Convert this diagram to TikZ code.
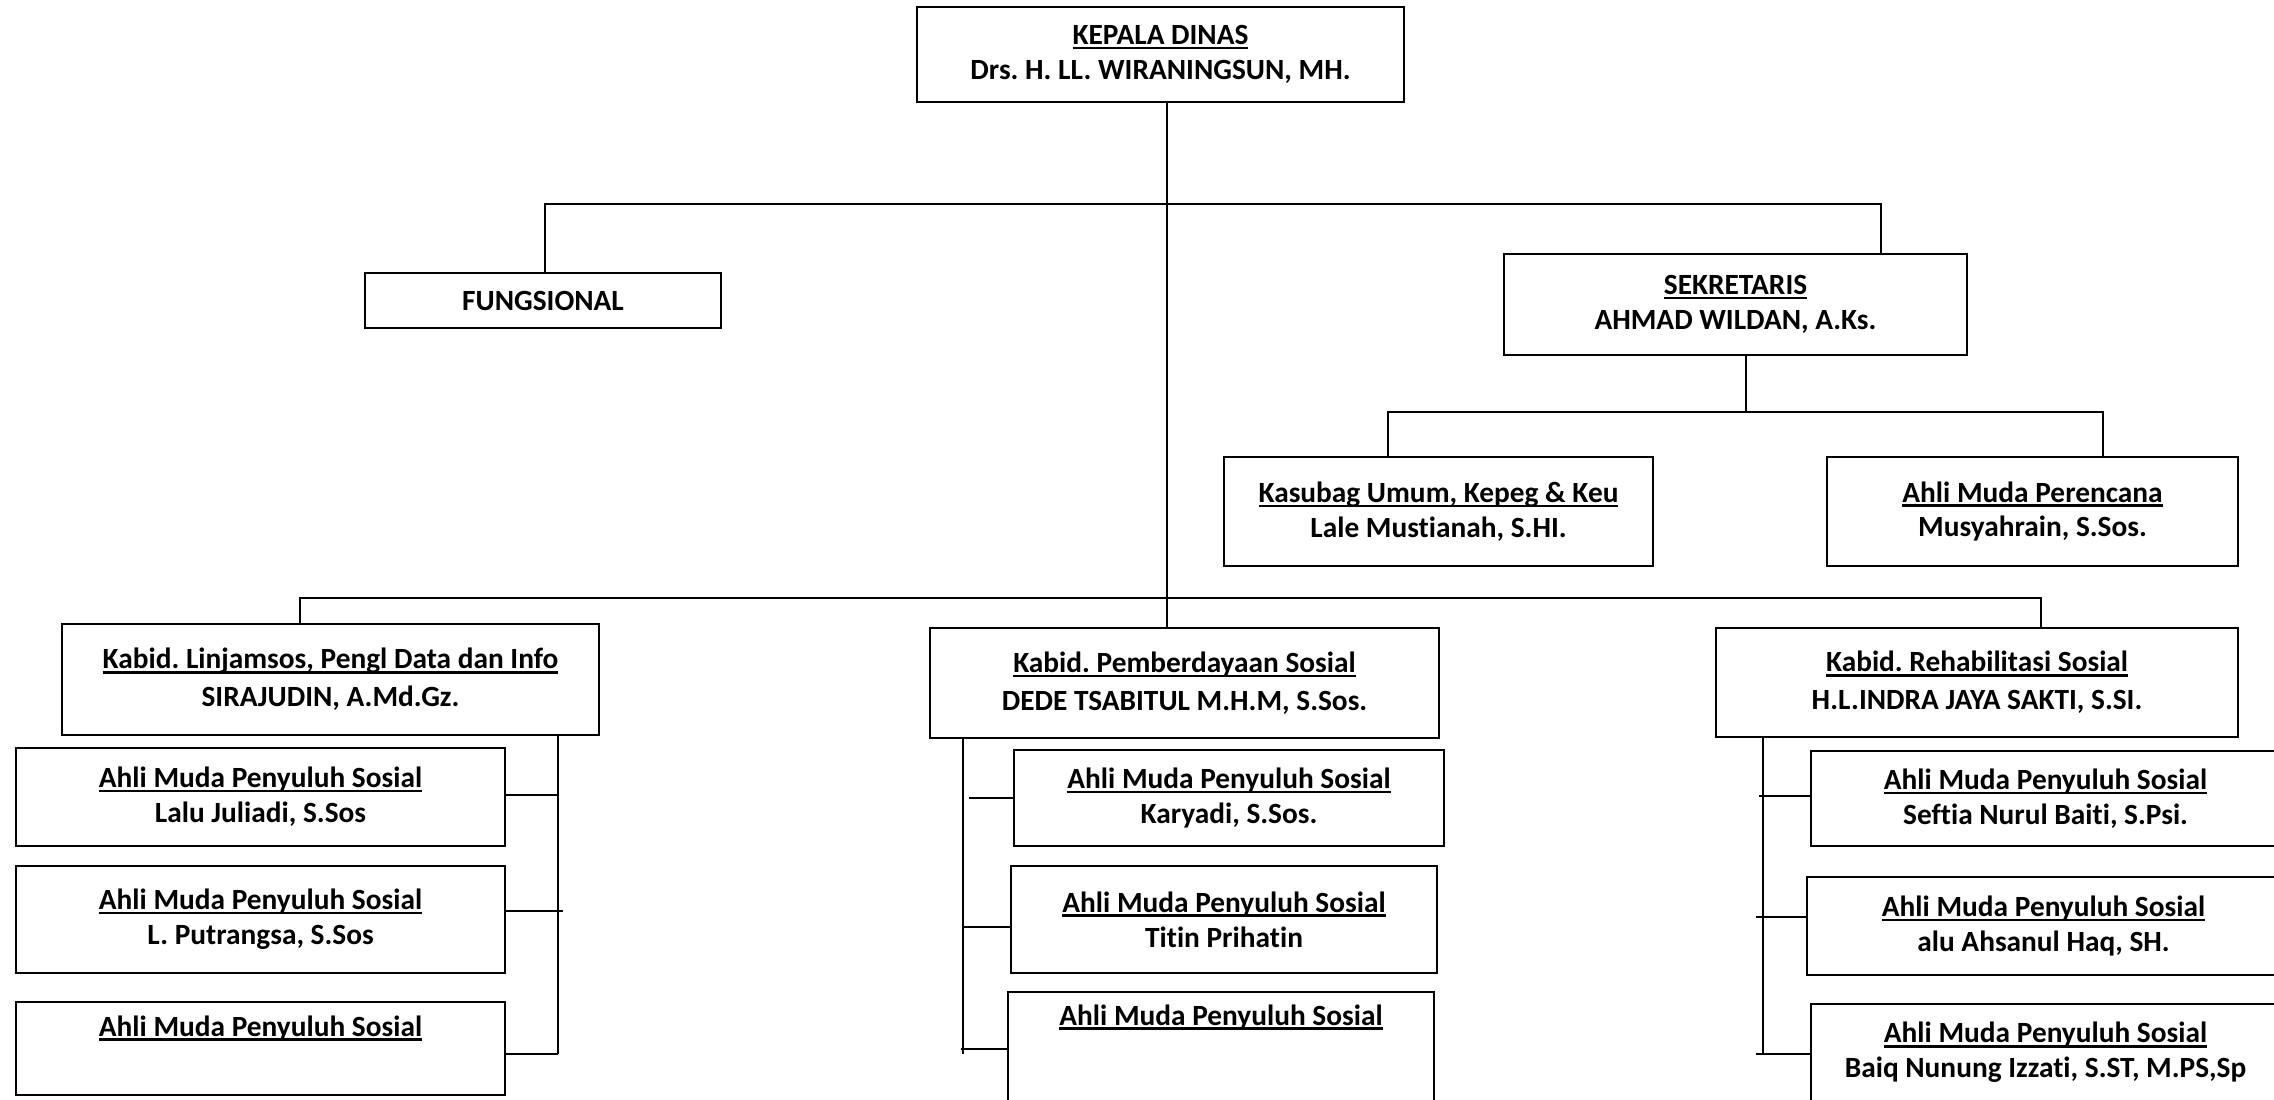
\documentclass[tikz,border=0pt]{standalone}
\usepackage{fontspec}
\setmainfont{Carlito}[Ligatures=NoCommon]
\frenchspacing
\tikzset{
  box/.style={draw=black, line width=1.1pt, fill=white, align=center, inner sep=0pt,
    font=\fontsize{16.7}{19.8}\selectfont\bfseries},
  kbox/.style={box, font=\fontsize{16.7}{21.5}\selectfont\bfseries},
  conn/.style={draw=black, line width=1.1pt}
}
\newcommand{\ttl}[1]{\setbox0\hbox{#1}\rlap{\rule[-2.6pt]{\wd0}{1.4pt}}\box0}
\begin{document}
\begin{tikzpicture}[x=0.02cm,y=-0.02cm]
\useasboundingbox (0,0) rectangle (2274,1099);
\clip (0,0) rectangle (2274,1099);
% boxes
\node[box, minimum width=487*0.02cm, minimum height=95*0.02cm] (kepala) at (1160.5,54.5) {\ttl{KEPALA DINAS}\\Drs. H. LL. WIRANINGSUN, MH.};
\node[box, minimum width=356*0.02cm, minimum height=55*0.02cm] (fung) at (543,300.5) {FUNGSIONAL};
\node[box, minimum width=463*0.02cm, minimum height=101*0.02cm] (sek) at (1735.5,304.5) {\ttl{SEKRETARIS}\\AHMAD WILDAN, A.Ks.};
\node[box, minimum width=429*0.02cm, minimum height=109*0.02cm] (kasubag) at (1438.5,511.5) {\ttl{Kasubag Umum, Kepeg \& Keu}\\Lale Mustianah, S.HI.};
\node[box, minimum width=411*0.02cm, minimum height=109*0.02cm] (peren) at (2032.5,511.5) {\ttl{Ahli Muda Perencana}\\Musyahrain, S.Sos.};
\node[kbox, minimum width=537*0.02cm, minimum height=111*0.02cm] (kab1) at (330.5,679.5) {\ttl{Kabid. Linjamsos, Pengl Data dan Info}\\SIRAJUDIN, A.Md.Gz.};
\node[kbox, minimum width=509*0.02cm, minimum height=110*0.02cm] (kab2) at (1184.5,683) {\ttl{Kabid. Pemberdayaan Sosial}\\DEDE TSABITUL M.H.M, S.Sos.};
\node[kbox, minimum width=522*0.02cm, minimum height=109*0.02cm] (kab3) at (1977,682.5) {\ttl{Kabid. Rehabilitasi Sosial}\\H.L.INDRA JAYA SAKTI, S.SI.};
% left column
\node[box, minimum width=489*0.02cm, minimum height=98*0.02cm] (a1) at (260.5,797) {\ttl{Ahli Muda Penyuluh Sosial}\\Lalu Juliadi, S.Sos};
\node[box, minimum width=489*0.02cm, minimum height=107*0.02cm] (a2) at (260.5,919.5) {\ttl{Ahli Muda Penyuluh Sosial}\\L. Putrangsa, S.Sos};
\node[box, minimum width=489*0.02cm, minimum height=93*0.02cm] (a3) at (260.5,1048.5) {\ttl{Ahli Muda Penyuluh Sosial}\\\strut};
% middle column
\node[box, minimum width=430*0.02cm, minimum height=96*0.02cm] (b1) at (1229,798) {\ttl{Ahli Muda Penyuluh Sosial}\\Karyadi, S.Sos.};
\node[box, minimum width=426*0.02cm, minimum height=107*0.02cm] (b2) at (1224,919.5) {\ttl{Ahli Muda Penyuluh Sosial}\\Titin Prihatin};
\node[box, minimum width=426*0.02cm, minimum height=126*0.02cm] (b3) at (1221,1055) {\ttl{Ahli Muda Penyuluh Sosial}\\\strut\\\strut};
% right column
\node[box, minimum width=469*0.02cm, minimum height=95*0.02cm] (c1) at (2045.5,798.5) {\ttl{Ahli Muda Penyuluh Sosial}\\Seftia Nurul Baiti, S.Psi.};
\node[box, minimum width=473*0.02cm, minimum height=98*0.02cm] (c2) at (2043.5,926) {\ttl{Ahli Muda Penyuluh Sosial}\\alu Ahsanul Haq, SH.};
\node[box, minimum width=469*0.02cm, minimum height=97*0.02cm] (c3) at (2045.5,1052.5) {\ttl{Ahli Muda Penyuluh Sosial}\\Baiq Nunung Izzati, S.ST, M.PS,Sp};
% joints
\coordinate (m0) at (1167,102);
\coordinate (jf) at (545,204);
\coordinate (js) at (1881,204);
\coordinate (jsd) at (1746,355);
\coordinate (jk) at (1388,412);
\coordinate (jp) at (2103,412);
\coordinate (jl) at (300,598);
\coordinate (jr) at (2041,598);
\coordinate (vl) at (558,1054);
\coordinate (vm) at (963,1054);
\coordinate (vr) at (1763,1054);
\coordinate (tl1) at (558,795);
\coordinate (tl2) at (563,911);
\coordinate (tl3) at (558,1054);
\coordinate (tm1) at (969,798);
\coordinate (tm2) at (963,927);
\coordinate (tm3) at (961,1049);
\coordinate (tr1) at (1759,796);
\coordinate (tr2) at (1756,917);
\coordinate (tr3) at (1756,1054);
% connectors
\draw[conn] (m0) -- (m0 |- kab2.north);
\draw[conn] (fung.north -| jf) -- (jf) -- (js) -- (js |- sek.north);
\draw[conn] (jsd) -- (jsd |- jk);
\draw[conn] (jk |- kasubag.north) -- (jk) -- (jp) -- (jp |- peren.north);
\draw[conn] (jl |- kab1.north) -- (jl) -- (jr) -- (jr |- kab3.north);
\draw[conn] (vl |- kab1.south) -- (vl);
\draw[conn] (vm |- kab2.south) -- (vm);
\draw[conn] (vr |- kab3.south) -- (vr);
\draw[conn] (tl1 -| a1.east) -- (tl1);
\draw[conn] (tl2 -| a2.east) -- (tl2);
\draw[conn] (tl3 -| a3.east) -- (tl3);
\draw[conn] (tm1) -- (tm1 -| b1.west);
\draw[conn] (tm2) -- (tm2 -| b2.west);
\draw[conn] (tm3) -- (tm3 -| b3.west);
\draw[conn] (tr1) -- (tr1 -| c1.west);
\draw[conn] (tr2) -- (tr2 -| c2.west);
\draw[conn] (tr3) -- (tr3 -| c3.west);
\end{tikzpicture}
\end{document}
